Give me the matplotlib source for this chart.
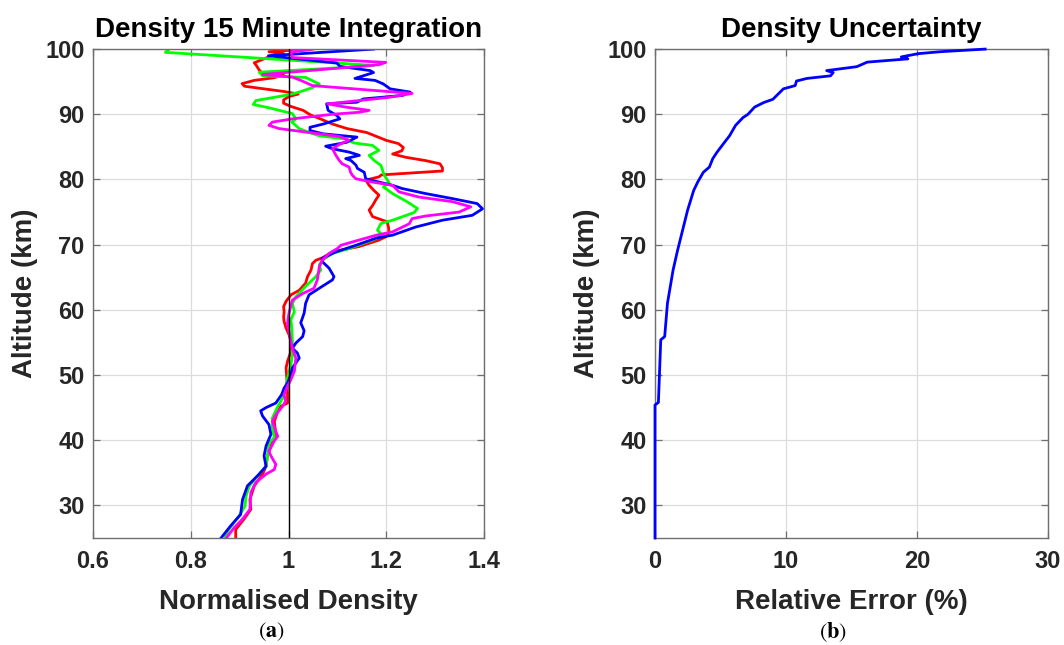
import numpy as np
import matplotlib
matplotlib.use("Agg")
import matplotlib.pyplot as plt

# ---------------- data ----------------
alt_blue = [100.0, 98.98, 97.86, 97.35, 96.7, 96.4, 95.5, 95.2, 94.65, 93.9, 93.4, 92.9,
            92.35, 91.85, 91.6, 90.6, 89.8, 89.3, 88.5, 88.0, 87.5, 87.0, 86.7, 86.5,
            85.7, 85.1, 84.7, 84.2, 83.7, 83.2, 82.9, 82.2, 81.7, 81.1, 80.1, 79.6,
            79.1, 78.6, 77.83, 77.07, 76.3, 75.5, 74.5, 73.75, 72.7, 71.46, 71.0, 69.9,
            68.9, 67.9, 67.4, 66.4, 65.1, 64.6, 63.6, 62.3, 61.0, 59.5, 58.0, 56.8,
            55.9, 54.9, 54.1, 53.4, 52.6, 51.1, 50.1, 48.8, 48.0, 47.0, 45.7, 45.0,
            44.5, 43.7, 42.4, 40.9, 39.1, 37.6, 36.0, 34.8, 33.0, 30.9, 28.6, 26.9, 25.0]
dens_blue = [1.174, 0.959, 1.099, 1.105, 1.167, 1.174, 1.136, 1.177, 1.194, 1.208, 1.249, 1.234,
             1.153, 1.140, 1.078, 1.081, 1.099, 1.105, 1.071, 1.044, 1.044, 1.071, 1.112, 1.140,
             1.119, 1.076, 1.090, 1.124, 1.145, 1.117, 1.128, 1.138, 1.141, 1.155, 1.158, 1.185,
             1.213, 1.233, 1.281, 1.335, 1.386, 1.397, 1.376, 1.315, 1.260, 1.213, 1.179, 1.138,
             1.097, 1.069, 1.069, 1.083, 1.093, 1.090, 1.069, 1.042, 1.035, 1.032, 1.025, 1.032,
             1.029, 1.015, 1.008, 1.018, 1.022, 1.008, 1.005, 0.998, 0.991, 0.986, 0.974, 0.954,
             0.943, 0.947, 0.960, 0.964, 0.954, 0.950, 0.954, 0.940, 0.916, 0.906, 0.902, 0.882, 0.862]

alt_red = [100.0, 99.8, 99.6, 99.3, 99.0, 98.5, 97.9, 97.4, 96.8, 96.4, 96.0, 95.6,
           95.2, 94.7, 94.3, 93.9, 93.5, 93.1, 92.7, 92.2, 91.7, 91.2, 90.6, 89.9,
           89.3, 88.5, 87.8, 87.2, 86.6, 86.0, 85.5, 84.9, 84.4, 83.9, 83.4, 82.9,
           82.4, 81.8, 81.3, 80.7, 80.4, 79.9, 79.1, 78.3, 77.6, 76.8, 76.0, 75.3,
           74.3, 73.5, 72.5, 71.8, 71.2, 70.7, 69.7, 68.9, 68.0, 67.6, 67.1, 66.1,
           65.1, 64.1, 63.0, 62.3, 61.3, 60.5, 59.7, 58.9, 58.2, 57.2, 56.2, 55.2,
           53.6, 52.1, 51.1, 49.0, 47.0, 45.7, 45.2, 44.4, 42.9, 40.9, 39.1, 37.6,
           36.0, 34.8, 33.0, 30.9, 29.4, 27.9, 26.3, 25.0]
dens_red = [1.05, 1.00, 0.96, 0.99, 0.965, 0.95, 0.93, 0.935, 0.94, 0.945, 0.99, 0.97,
            0.93, 0.905, 0.91, 0.95, 0.99, 1.02, 1.00, 0.99, 0.99, 1.005, 1.03, 1.045,
            1.065, 1.09, 1.12, 1.16, 1.18, 1.20, 1.225, 1.235, 1.232, 1.213, 1.24, 1.28,
            1.31, 1.315, 1.315, 1.19, 1.185, 1.158, 1.165, 1.175, 1.185, 1.178, 1.172, 1.165,
            1.172, 1.202, 1.205, 1.205, 1.199, 1.185, 1.144, 1.09, 1.07, 1.056, 1.049, 1.046,
            1.039, 1.035, 1.022, 1.005, 0.995, 0.99, 0.991, 0.99, 0.991, 0.995, 1.001, 1.005,
            1.005, 0.998, 0.995, 0.997, 0.998, 0.998, 0.984, 0.978, 0.971, 0.974, 0.964, 0.957,
            0.954, 0.947, 0.930, 0.921, 0.923, 0.909, 0.892, 0.892]

alt_green = [100.0, 99.5, 97.5, 97.2, 96.45, 95.9, 95.65, 94.65, 94.1, 93.4, 93.0, 92.1,
             91.5, 91.0, 90.1, 89.3, 88.8, 87.8, 87.3, 86.7, 86.2, 85.6, 85.22, 84.46,
             83.69, 82.93, 82.16, 80.63, 79.51, 78.85, 77.83, 76.56, 75.54, 74.93, 73.75, 73.24,
             72.22, 71.46, 70.7, 69.4, 68.65, 67.6, 66.9, 66.1, 65.1, 63.6, 62.0, 61.0,
             59.7, 58.5, 56.9, 55.2, 53.1, 51.6, 49.5, 47.5, 46.5, 45.0, 43.4, 41.9,
             40.4, 39.6, 37.6, 36.0, 34.8, 33.0, 31.4, 29.9, 28.4, 26.3, 25.0]
dens_green = [0.756, 0.748, 1.175, 1.12, 0.940, 0.947, 1.035, 1.063, 1.049, 1.022, 1.001, 0.933,
              0.928, 0.960, 1.008, 1.015, 1.007, 1.022, 1.039, 1.063, 1.117, 1.134, 1.172, 1.185,
              1.165, 1.175, 1.189, 1.196, 1.206, 1.194, 1.213, 1.243, 1.264, 1.257, 1.213, 1.189,
              1.182, 1.192, 1.172, 1.124, 1.090, 1.069, 1.063, 1.066, 1.056, 1.035, 1.015, 1.008,
              1.012, 1.005, 1.007, 1.008, 1.008, 1.005, 0.998, 0.993, 0.988, 0.977, 0.967, 0.967,
              0.971, 0.960, 0.957, 0.954, 0.940, 0.920, 0.913, 0.911, 0.899, 0.878, 0.870]

alt_magenta = [100.0, 99.9, 99.7, 99.5, 98.7, 97.96, 97.6, 96.1, 95.7, 95.2, 94.4, 93.2,
               92.6, 92.1, 91.6, 91.1, 90.6, 90.3, 90.0, 89.3, 88.8, 88.3, 87.8, 87.0,
               86.6, 86.0, 85.5, 84.7, 83.7, 82.9, 82.4, 81.9, 81.1, 80.6, 80.1, 79.6,
               79.1, 78.1, 77.3, 76.6, 75.8, 75.0, 74.4, 74.0, 73.2, 71.97, 71.46, 70.7,
               69.9, 69.4, 68.65, 67.6, 66.6, 64.6, 63.3, 62.5, 61.5, 59.5, 57.95, 56.7,
               55.2, 54.1, 52.6, 50.6, 49.3, 48.3, 47.0, 46.0, 45.2, 43.9, 42.9, 41.4,
               40.6, 39.9, 38.3, 37.6, 36.3, 35.5, 34.8, 33.5, 32.0, 29.4, 27.9, 26.6, 25.0]
dens_magenta = [1.00, 1.045, 1.02, 1.005, 1.008, 1.199, 1.185, 0.947, 1.008, 1.025, 1.049, 1.253,
                1.206, 1.144, 1.080, 1.117, 1.165, 1.144, 1.090, 1.008, 0.967, 0.960, 0.981, 1.063,
                1.104, 1.124, 1.107, 1.090, 1.097, 1.104, 1.110, 1.124, 1.127, 1.131, 1.138, 1.172,
                1.213, 1.226, 1.267, 1.335, 1.373, 1.349, 1.281, 1.253, 1.247, 1.213, 1.18, 1.144,
                1.107, 1.100, 1.083, 1.069, 1.063, 1.059, 1.052, 1.029, 1.008, 1.001, 0.998, 1.001,
                1.005, 1.008, 1.015, 1.012, 1.005, 0.998, 0.991, 0.994, 0.988, 0.974, 0.967, 0.974,
                0.978, 0.971, 0.960, 0.964, 0.974, 0.971, 0.954, 0.933, 0.923, 0.921, 0.906, 0.889, 0.873]

alt_err = [25.0, 45.4, 45.8, 55.4, 55.9, 61.0, 66.1, 69.1, 75.3, 78.3, 79.6, 81.1, 81.9,
           83.2, 84.2, 85.5, 86.7, 88.3, 89.5, 90.0, 91.1, 91.8, 92.3, 92.9, 93.9, 94.4,
           95.1, 95.5, 95.9, 96.4, 96.7, 97.3, 98.0, 98.5, 98.8, 99.3, 99.6, 100.0]
rel_err = [0.0, 0.0, 0.26, 0.44, 0.74, 0.95, 1.38, 1.72, 2.49, 2.95, 3.26, 3.69, 4.15,
           4.41, 4.74, 5.23, 5.69, 6.15, 6.72, 7.1, 7.6, 8.3, 9.0, 9.3, 9.8, 10.7,
           10.8, 11.6, 13.4, 13.6, 13.1, 15.4, 16.2, 19.3, 18.8, 20.1, 21.8, 25.2]

left_xticks = [0.6, 0.8, 1.0, 1.2, 1.4]
left_xticklabels = ["0.6", "0.8", "1", "1.2", "1.4"]
right_xticks = [0, 10, 20, 30]
yticks = [30, 40, 50, 60, 70, 80, 90, 100]

# ---------------- style ----------------
plt.rcParams['font.family'] = ['Liberation Sans', 'DejaVu Sans']
plt.rcParams['mathtext.fontset'] = 'stix'
TXT = '#262626'
SPINE = '#6e6e6e'

fig = plt.figure(figsize=(10.64, 6.45), dpi=100)
axL = fig.add_axes([0.0874, 0.1659, 0.3675, 0.758])
axR = fig.add_axes([0.6156, 0.1659, 0.3694, 0.758])

def style(ax):
    ax.grid(True, color='#dcdcdc', linewidth=0.9)
    ax.set_axisbelow(True)
    for s in ax.spines.values():
        s.set_color(SPINE)
        s.set_linewidth(1.0)
    ax.tick_params(direction='in', length=5, width=0.9, color=SPINE,
                   top=True, right=True, labelsize=17, labelcolor=TXT)
    ax.tick_params(axis='y', pad=6)
    ax.tick_params(axis='x', pad=9)
    for lab in ax.get_xticklabels() + ax.get_yticklabels():
        lab.set_fontweight('bold')
    ax.set_ylim(25, 100)
    ax.set_yticks(yticks)
    ax.set_ylabel('Altitude (km)', fontsize=20, fontweight='bold', color=TXT, labelpad=5)

lw = 2.0
axL.plot(dens_red, alt_red, color='#ff0000', lw=lw)
axL.plot(dens_green, alt_green, color='#00ff00', lw=lw)
axL.plot(dens_blue, alt_blue, color='#0000ff', lw=lw)
axL.plot(dens_magenta, alt_magenta, color='#ff00ff', lw=lw)
axL.axvline(1.0, color='black', lw=1.0, zorder=5)
axL.set_xlim(0.6, 1.4)
axL.set_xticks(left_xticks)
axL.set_xticklabels(left_xticklabels)
style(axL)
axL.set_xlabel('Normalised Density', fontsize=20, fontweight='bold', color=TXT, labelpad=11)
axL.set_title('Density 15 Minute Integration', fontsize=20, fontweight='bold', color='black', pad=9)

axR.plot(rel_err, alt_err, color='#0000ff', lw=lw, clip_on=False, zorder=4)
axR.set_xlim(0, 30)
axR.set_xticks(right_xticks)
style(axR)
axR.set_xlabel('Relative Error (%)', fontsize=20, fontweight='bold', color=TXT, labelpad=11)
axR.set_title('Density Uncertainty', fontsize=20, fontweight='bold', color='black', pad=9)

fig.text(271 / 1064, 1 - 632 / 645, r'$(\mathbf{a})$', ha='center', va='center', fontsize=16, color='black')
fig.text(833 / 1064, 1 - 632 / 645, r'$(\mathbf{b})$', ha='center', va='center', fontsize=16, color='black')

fig.savefig('out.png', dpi=100)
